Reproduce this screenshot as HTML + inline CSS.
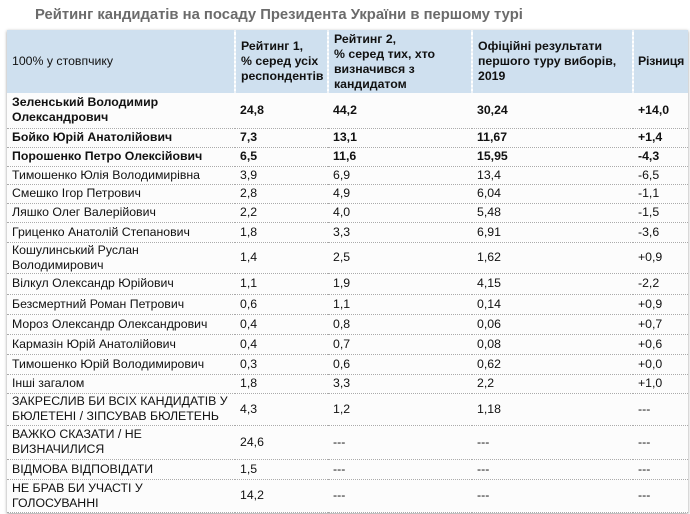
<!DOCTYPE html>
<html><head><meta charset="utf-8"><style>
body{margin:0;width:690px;height:514px;background:#fff;overflow:hidden;font-family:"Liberation Sans",Arial,sans-serif;}
h1{position:absolute;left:35px;top:7px;margin:0;font-size:14.8px;font-weight:bold;color:#6b6b6b;}
table{position:absolute;left:7px;top:30px;border-collapse:collapse;width:681px;box-shadow:0 1px 3px #999;font-size:12.3px;color:#111;table-layout:fixed;}
td{padding:0 0 0 5px;border-bottom:1px dotted #aaa;line-height:15px;vertical-align:middle;background:#fcfcfc;white-space:nowrap;overflow:hidden;}
tr.h td{background:#cfe0ef;border-right:2px dotted #eef3f8;font-weight:bold;border-bottom:none;}
tr.h td:first-child{font-weight:normal;}
tr.h td:last-child{border-right:none;padding-left:4px;letter-spacing:-0.2px;}
tr.b td{font-weight:bold;}
</style></head><body>
<h1>Рейтинг кандидатів на посаду Президента України в першому турі</h1>
<table>
<colgroup><col style="width:228px"><col style="width:93px"><col style="width:144px"><col style="width:161px"><col style="width:55px"></colgroup>
<tr class="h" style="height:63px"><td>100% у стовпчику</td><td>Рейтинг 1,<br>% серед усіх<br>респондентів</td><td>Рейтинг 2,<br>% серед тих, хто<br>визначився з<br>кандидатом</td><td>Офіційні результати<br>першого туру виборів,<br>2019</td><td>Різниця</td></tr>
<tr class="b" style="height:35px"><td>Зеленський Володимир<br>Олександрович</td><td>24,8</td><td>44,2</td><td>30,24</td><td>+14,0</td></tr>
<tr class="b" style="height:19px"><td>Бойко Юрій Анатолійович</td><td>7,3</td><td>13,1</td><td>11,67</td><td>+1,4</td></tr>
<tr class="b" style="height:19px"><td>Порошенко Петро Олексійович</td><td>6,5</td><td>11,6</td><td>15,95</td><td>-4,3</td></tr>
<tr style="height:18px"><td>Тимошенко Юлія Володимирівна</td><td>3,9</td><td>6,9</td><td>13,4</td><td>-6,5</td></tr>
<tr style="height:19px"><td>Смешко Ігор Петрович</td><td>2,8</td><td>4,9</td><td>6,04</td><td>-1,1</td></tr>
<tr style="height:19px"><td>Ляшко Олег Валерійович</td><td>2,2</td><td>4,0</td><td>5,48</td><td>-1,5</td></tr>
<tr style="height:20px"><td>Гриценко Анатолій Степанович</td><td>1,8</td><td>3,3</td><td>6,91</td><td>-3,6</td></tr>
<tr style="height:28px"><td>Кошулинський Руслан<br>Володимирович</td><td>1,4</td><td>2,5</td><td>1,62</td><td>+0,9</td></tr>
<tr style="height:21px"><td>Вілкул Олександр Юрійович</td><td>1,1</td><td>1,9</td><td>4,15</td><td>-2,2</td></tr>
<tr style="height:20px"><td>Безсмертний Роман Петрович</td><td>0,6</td><td>1,1</td><td>0,14</td><td>+0,9</td></tr>
<tr style="height:20px"><td>Мороз Олександр Олександрович</td><td>0,4</td><td>0,8</td><td>0,06</td><td>+0,7</td></tr>
<tr style="height:20px"><td>Кармазін Юрій Анатолійович</td><td>0,4</td><td>0,7</td><td>0,08</td><td>+0,6</td></tr>
<tr style="height:20px"><td>Тимошенко Юрій Володимирович</td><td>0,3</td><td>0,6</td><td>0,62</td><td>+0,0</td></tr>
<tr style="height:19px"><td>Інші загалом</td><td>1,8</td><td>3,3</td><td>2,2</td><td>+1,0</td></tr>
<tr style="height:32px"><td>ЗАКРЕСЛИВ БИ ВСІХ КАНДИДАТІВ У<br>БЮЛЕТЕНІ / ЗІПСУВАВ БЮЛЕТЕНЬ</td><td>4,3</td><td>1,2</td><td>1,18</td><td>---</td></tr>
<tr style="height:34px"><td>ВАЖКО СКАЗАТИ / НЕ<br>ВИЗНАЧИЛИСЯ</td><td>24,6</td><td>---</td><td>---</td><td>---</td></tr>
<tr style="height:20px"><td>ВІДМОВА ВІДПОВІДАТИ</td><td>1,5</td><td>---</td><td>---</td><td>---</td></tr>
<tr style="height:33px"><td>НЕ БРАВ БИ УЧАСТІ У<br>ГОЛОСУВАННІ</td><td>14,2</td><td>---</td><td>---</td><td>---</td></tr>
</table>
</body></html>
